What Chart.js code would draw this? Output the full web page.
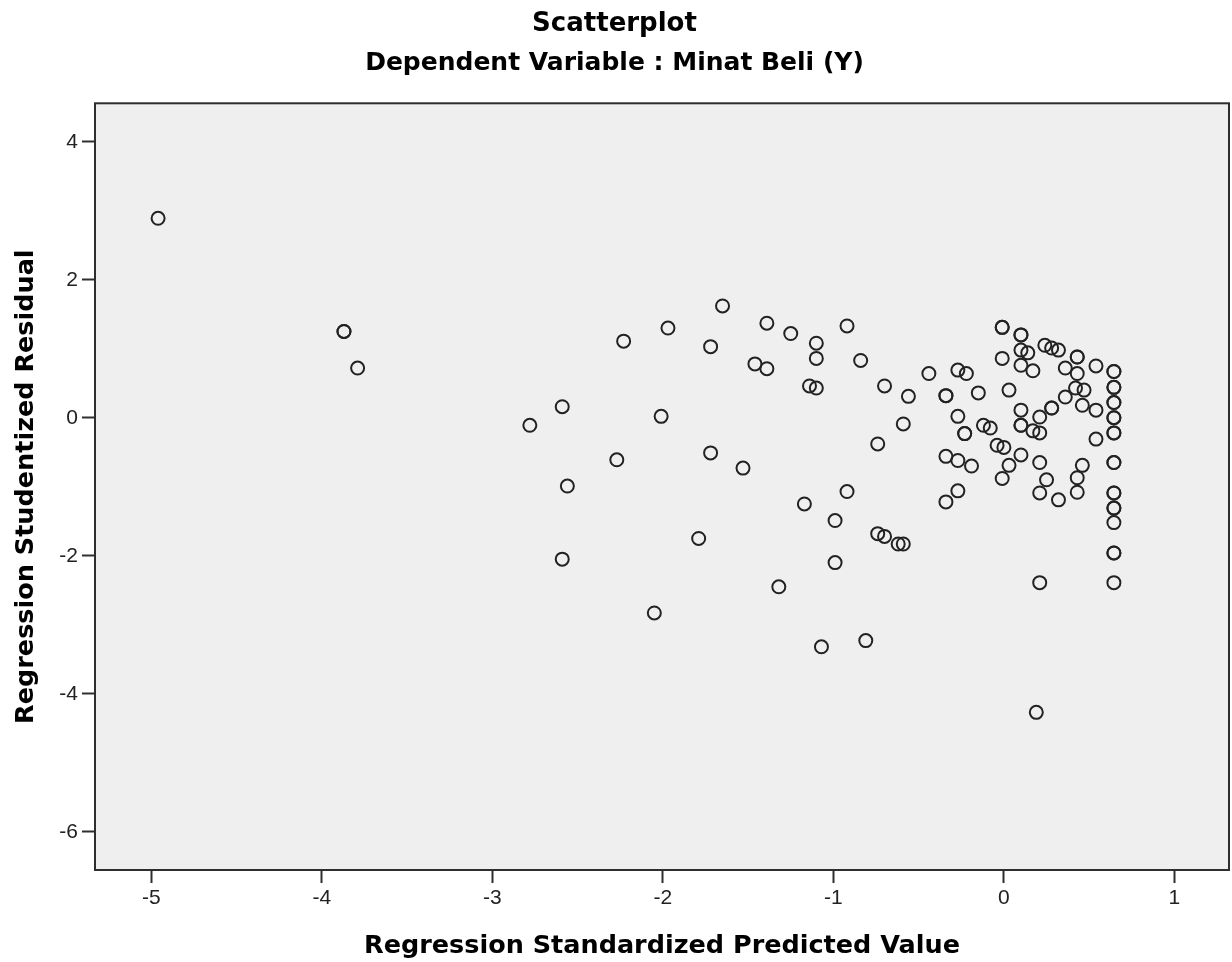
<!DOCTYPE html>
<html>
<head>
<meta charset="utf-8">
<title>Scatterplot</title>
<script src="https://cdn.jsdelivr.net/npm/chart.js@4.4.1/dist/chart.umd.min.js"></script>
<style>
  html, body { margin: 0; padding: 0; background: #fff; overflow: hidden; }
  #wrap { width: 1232px; height: 962px; position: relative; }
  #scatter { display: block; }
</style>
</head>
<body>
<div id="wrap"><canvas id="scatter"></canvas></div>
<script>
// Regression Standardized Predicted Value (x) and Studentized Residual (y)
const predicted = [
  -4.96, -3.87, -3.87, -3.79,
  -2.78, -2.59, -2.23, -1.97, -1.65, -1.72, -1.39, -1.25, -1.46, -1.39,
  -2.01, -2.27, -2.56, -1.72, -1.53, -2.59, -1.79, -2.05, -1.17, -0.92,
  -0.99, -0.74, -0.70, -0.62, -0.59, -0.99, -1.32, -1.07, -0.81,
  -1.10, -1.10, -0.92, -0.84, -1.14, -1.10, -0.70, -0.44, -0.56, -0.59, -0.74,
  -0.27, -0.22, -0.34, -0.34, -0.15, -0.27, -0.23, -0.23, -0.12, -0.08,
  -0.04, 0.00, -0.34, -0.27, -0.19, -0.27, -0.34, -0.01, 0.03,
  -0.01, -0.01, 0.10, 0.10, -0.01, 0.10, 0.14, 0.10, 0.17, 0.24, 0.28, 0.32,
  0.43, 0.43, 0.36, 0.43, 0.54, 0.42, 0.47, 0.36, 0.28, 0.28, 0.46, 0.54,
  0.03, 0.10, 0.21, 0.10, 0.10, 0.17, 0.21, 0.54, 0.10, 0.21, 0.25, 0.21,
  0.32, 0.46, 0.43, 0.43, 0.21, 0.19,
  0.645, 0.645, 0.645, 0.645, 0.645, 0.645, 0.645, 0.645, 0.645, 0.645,
  0.645, 0.645, 0.645, 0.645, 0.645, 0.645, 0.645, 0.645, 0.645, 0.645
];
const residual = [
  2.89, 1.25, 1.25, 0.72,
  -0.11, 0.16, 1.11, 1.30, 1.62, 1.03, 1.37, 1.22, 0.78, 0.71,
  0.02, -0.61, -0.99, -0.51, -0.73, -2.05, -1.75, -2.83, -1.25, -1.07,
  -1.49, -1.68, -1.72, -1.83, -1.83, -2.10, -2.45, -3.32, -3.23,
  1.08, 0.86, 1.33, 0.83, 0.46, 0.43, 0.46, 0.64, 0.31, -0.09, -0.38,
  0.69, 0.64, 0.32, 0.32, 0.36, 0.02, -0.23, -0.23, -0.11, -0.15,
  -0.40, -0.43, -0.56, -0.62, -0.70, -1.06, -1.22, -0.88, -0.69,
  1.31, 1.31, 1.20, 1.20, 0.86, 0.98, 0.94, 0.76, 0.68, 1.05, 1.01, 0.98,
  0.88, 0.88, 0.72, 0.64, 0.75, 0.43, 0.40, 0.30, 0.14, 0.14, 0.18, 0.11,
  0.40, 0.11, 0.01, -0.11, -0.11, -0.19, -0.22, -0.31, -0.54, -0.65, -0.90, -1.09,
  -1.19, -0.69, -0.87, -1.08, -2.39, -4.27,
  0.67, 0.67, 0.44, 0.44, 0.22, 0.22, 0.00, 0.00, -0.22, -0.22,
  -0.65, -0.65, -1.09, -1.09, -1.31, -1.31, -1.52, -1.96, -1.96, -2.39
];

const xTicks = [-5, -4, -3, -2, -1, 0, 1];
const yTicks = [-6, -4, -2, 0, 2, 4];

const chartTitle = "Scatterplot";
const chartSubtitle = "Dependent Variable : Minat Beli (Y)";
const xTitle = "Regression Standardized Predicted Value";
const yTitle = "Regression Studentized Residual";

function ready(fn) {
  if (document.readyState !== "loading") {
    fn();
  } else {
    document.addEventListener("DOMContentLoaded", fn);
  }
}

ready(() => {
  drawScatter();
});

// grey plot panel with a dark frame, like the SPSS output
const panelFrame = {
  id: "panelFrame",
  beforeDatasetsDraw(chart) {
    const { ctx, chartArea: a } = chart;
    ctx.save();
    ctx.fillStyle = "#efefef";
    ctx.fillRect(a.left, a.top, a.right - a.left, a.bottom - a.top);
    ctx.restore();
  },
  afterDraw(chart) {
    const { ctx, chartArea: a } = chart;
    ctx.save();
    ctx.strokeStyle = "#2e2e2e";
    ctx.lineWidth = 2;
    ctx.strokeRect(a.left, a.top, a.right - a.left, a.bottom - a.top);
    ctx.restore();
  },
};

function drawScatter() {
  const canvas = document.getElementById("scatter");
  if (!canvas || !window.Chart) return;

  const points = predicted.map((x, i) => ({ x, y: residual[i] }));
  const tickFont = { family: "'Liberation Sans', Arial, sans-serif", size: 21 };
  const titleFont = { family: "'DejaVu Sans', sans-serif", size: 25.5, weight: "bold" };

  new Chart(canvas.getContext("2d"), {
    type: "scatter",
    data: {
      datasets: [
        {
          data: points,
          pointStyle: "circle",
          pointRadius: 6.5,
          pointHoverRadius: 6.5,
          pointBorderWidth: 2,
          borderColor: "#222",
          backgroundColor: "rgba(0,0,0,0)",
        },
      ],
    },
    options: {
      responsive: true,
      maintainAspectRatio: false,
      animation: false,
      layout: {
        autoPadding: false,
        padding: { left: 0, right: 3, top: 0, bottom: 0 },
      },
      plugins: {
        legend: { display: false },
        tooltip: { enabled: false },
        title: {
          display: true,
          text: chartTitle,
          color: "#000",
          font: { family: "'DejaVu Sans', sans-serif", size: 26, weight: "bold" },
          padding: { top: 9, bottom: 4 },
        },
        subtitle: {
          display: true,
          text: chartSubtitle,
          color: "#000",
          font: { family: "'DejaVu Sans', sans-serif", size: 25, weight: "bold" },
          padding: { top: 4.2, bottom: 24.9 },
        },
      },
      scales: {
        x: {
          type: "linear",
          min: -5.33,
          max: 1.32,
          afterBuildTicks: (scale) => {
            scale.ticks = xTicks.map((v) => ({ value: v }));
          },
          afterFit: (scale) => {
            scale.height = 92;
            scale.paddingLeft = 0;
            scale.paddingRight = 0;
          },
          grid: {
            drawOnChartArea: false,
            drawTicks: true,
            tickLength: 13,
            tickWidth: 2,
            tickColor: "#2e2e2e",
          },
          border: { display: false },
          ticks: {
            color: "#222",
            font: tickFont,
            padding: 3,
            maxRotation: 0,
            callback: (v) => String(v),
          },
          title: {
            display: true,
            text: xTitle,
            color: "#000",
            font: titleFont,
            padding: { top: 0, bottom: 0 },
          },
        },
        y: {
          type: "linear",
          min: -6.555,
          max: 4.557,
          afterBuildTicks: (scale) => {
            scale.ticks = yTicks.map((v) => ({ value: v }));
          },
          afterFit: (scale) => {
            scale.width = 95;
          },
          grid: {
            drawOnChartArea: false,
            drawTicks: true,
            tickLength: 13,
            tickWidth: 2,
            tickColor: "#2e2e2e",
          },
          border: { display: false },
          ticks: {
            color: "#222",
            font: tickFont,
            padding: 4,
            callback: (v) => String(v),
          },
          title: {
            display: true,
            text: yTitle,
            color: "#000",
            font: titleFont,
            padding: { top: 11, bottom: 0 },
          },
        },
      },
    },
    plugins: [panelFrame],
  });
}
</script>
</body>
</html>
